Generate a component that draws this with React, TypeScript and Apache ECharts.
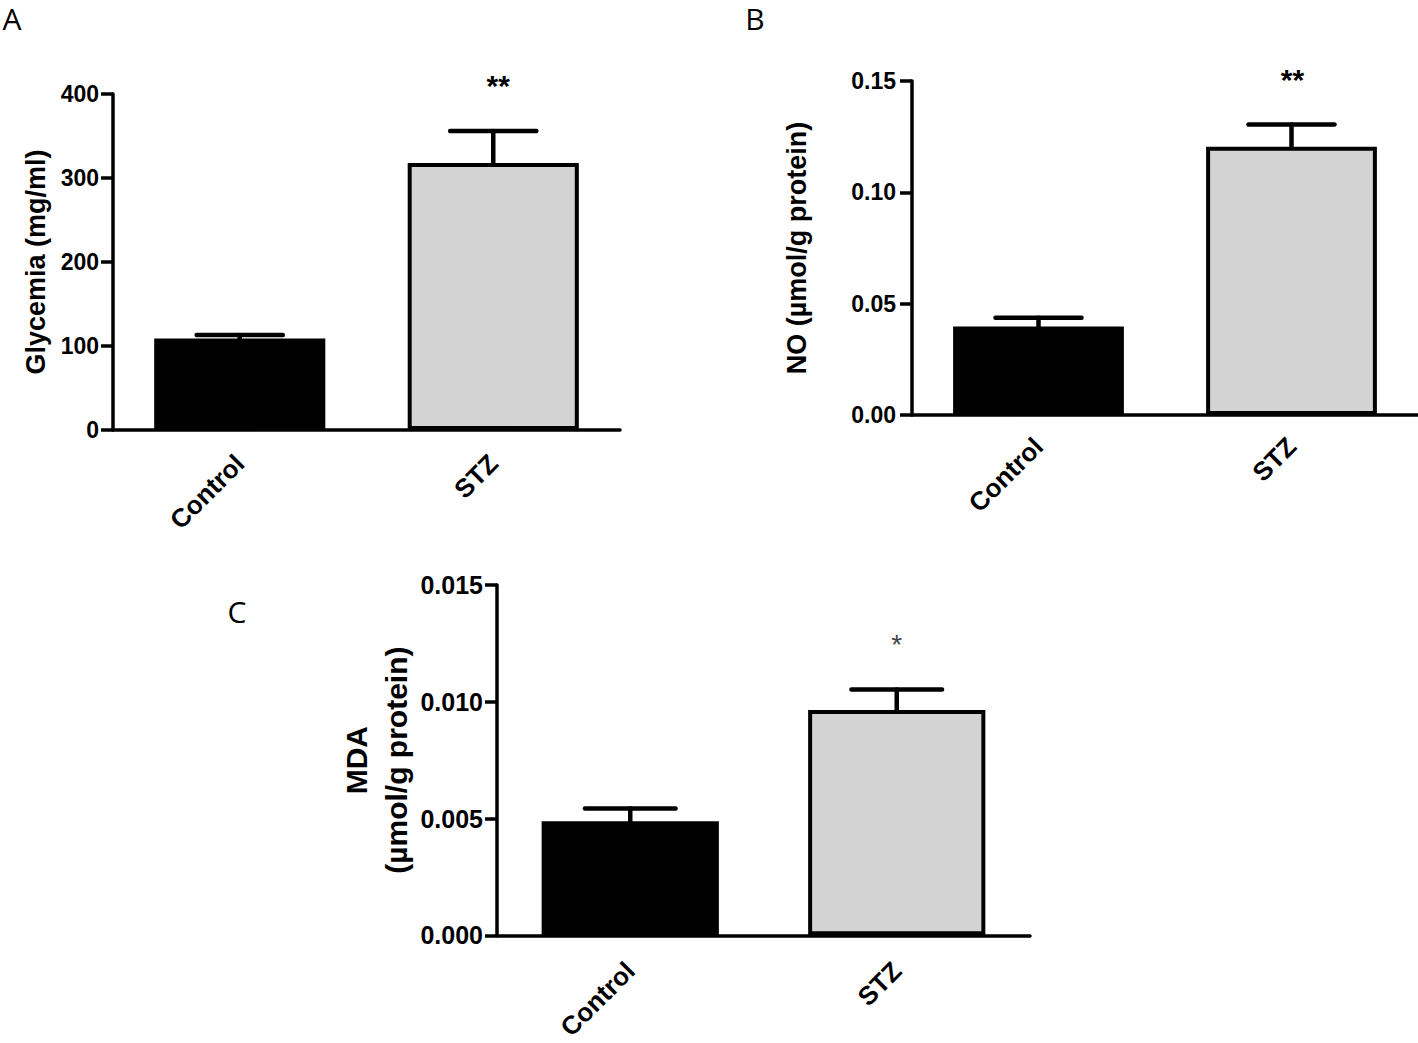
import React, { useEffect, useRef } from "react";
import * as echarts from "echarts";

const categories = ["Control", "STZ"];

// Panel A: Glycemia (mg/ml)
const glycemiaMean = [109, 318];
const glycemiaSem = [4, 38];
const glycemiaSig = ["", "**"];

// Panel B: NO (µmol/g protein)
const noMean = [0.0398, 0.1205];
const noSem = [0.0039, 0.0100];
const noSig = ["", "**"];

// Panel C: MDA (µmol/g protein)
const mdaMean = [0.00488, 0.00965];
const mdaSem = [0.00055, 0.00088];
const mdaSig = ["", "*"];

const yTicksA = { min: 0, max: 400, interval: 100 };
const yTicksB = { min: 0, max: 0.15, interval: 0.05 };
const yTicksC = { min: 0, max: 0.015, interval: 0.005 };

const barColors = ["#000000", "#d3d3d3"];

const SANS = "'Liberation Sans', Arial, Helvetica, sans-serif";

export default function App() {
  const ref = useRef<HTMLDivElement>(null);

  useEffect(() => {
    if (!ref.current) return;
    const chart = echarts.init(ref.current, null, { renderer: "svg" });

    const grids = [
      { left: 113, top: 94, width: 507, height: 336 },
      { left: 912, top: 81, width: 506, height: 334 },
      { left: 497, top: 585, width: 533, height: 354 },
    ];

    const panels = [
      {
        mean: glycemiaMean, sem: glycemiaSem, sig: glycemiaSig, ticks: yTicksA,
        name: "Glycemia (mg/ml)", nameGap: 63, dec: 0, tickSize: 23, labelMargin: 14,
        starStyle: { fontSize: 30, fontWeight: "bold", fill: "#000", dx: 5 }, nameSize: 27, lineHeight: 28,
        barWidth: "67.5%", catMargin: 29,
      },
      {
        mean: noMean, sem: noSem, sig: noSig, ticks: yTicksB,
        name: "NO (µmol/g protein)", nameGap: 101, dec: 2, tickSize: 23, labelMargin: 16,
        starStyle: { fontSize: 30, fontWeight: "bold", fill: "#000", dx: 1 }, nameSize: 27, lineHeight: 28,
        barWidth: "67.5%", catMargin: 27,
      },
      {
        mean: mdaMean, sem: mdaSem, sig: mdaSig, ticks: yTicksC,
        name: "MDA\n(µmol/g protein)", nameGap: 64, dec: 3, tickSize: 25, labelMargin: 14,
        starStyle: { fontSize: 28, fontWeight: "normal", fill: "#444", dx: 0 }, nameSize: 30, lineHeight: 40,
        barWidth: "66.5%", catMargin: 31,
      },
    ];

    const xAxis = panels.map((p, i) => ({
      type: "category",
      gridIndex: i,
      data: categories,
      axisLine: { lineStyle: { color: "#000", width: 3.5 } },
      axisTick: { alignWithLabel: true, length: 11, lineStyle: { color: "#000", width: 3.5 } },
      axisLabel: {
        rotate: 45,
        margin: p.catMargin,
        color: "#000",
        fontFamily: SANS,
        fontWeight: "bold",
        fontSize: 26,
      },
    }));

    const yAxis = panels.map((p, i) => ({
      type: "value",
      gridIndex: i,
      min: p.ticks.min,
      max: p.ticks.max,
      interval: p.ticks.interval,
      name: p.name,
      nameLocation: "middle",
      nameGap: p.nameGap,
      nameRotate: 90,
      nameTextStyle: {
        color: "#000",
        fontFamily: SANS,
        fontWeight: "bold",
        fontSize: p.nameSize,
        lineHeight: p.lineHeight,
        align: "center",
      },
      splitLine: { show: false },
      axisLine: { show: true, lineStyle: { color: "#000", width: 3.5 } },
      axisTick: { show: true, length: 12, lineStyle: { color: "#000", width: 3.5 } },
      axisLabel: {
        margin: p.labelMargin,
        color: "#000",
        fontFamily: SANS,
        fontWeight: "bold",
        fontSize: p.tickSize,
        formatter: (v: number) => v.toFixed(p.dec),
      },
    }));

    const series: any[] = [];
    panels.forEach((p, i) => {
      series.push({
        type: "bar",
        xAxisIndex: i,
        yAxisIndex: i,
        barWidth: p.barWidth,
        data: p.mean.map((v, k) => ({
          value: v,
          itemStyle: { color: barColors[k], borderColor: "#000", borderWidth: 4 },
        })),
        z: 2,
      });
      series.push({
        type: "custom",
        xAxisIndex: i,
        yAxisIndex: i,
        z: 3,
        clip: false,
        data: p.mean.map((v, k) => [k, v, p.sem[k]]),
        renderItem: (params: any, api: any) => {
          const idx = api.value(0);
          const v = api.value(1);
          const e = api.value(2);
          const base = api.coord([idx, v]);
          const top = api.coord([idx, v + e]);
          const half = api.size([1, 0])[0] * 0.17;
          const style = { stroke: "#000", lineWidth: 4.5, lineCap: "round" };
          const children: any[] = [
            { type: "line", shape: { x1: base[0], y1: base[1], x2: top[0], y2: top[1] }, style },
            { type: "line", shape: { x1: top[0] - half, y1: top[1], x2: top[0] + half, y2: top[1] }, style },
          ];
          const star = p.sig[params.dataIndex];
          if (star) {
            children.push({
              type: "text",
              x: top[0] + p.starStyle.dx,
              y: top[1] - 45,
              style: {
                text: star,
                textAlign: "center",
                textVerticalAlign: "middle",
                fontFamily: SANS,
                fontSize: p.starStyle.fontSize,
                fontWeight: p.starStyle.fontWeight,
                fill: p.starStyle.fill,
              },
            });
          }
          return { type: "group", children };
        },
      });
    });

    const letterStyle = {
      fontFamily: "'Open Sans', 'Noto Sans', sans-serif",
      fontSize: 30,
      fill: "#000",
      textAlign: "center",
      textVerticalAlign: "middle",
    };

    chart.setOption({
      animation: false,
      backgroundColor: "#ffffff",
      grid: grids,
      xAxis,
      yAxis,
      series,
      graphic: [
        { type: "text", x: 12, y: 18, style: { ...letterStyle, text: "A" } },
        { type: "text", x: 755, y: 18, style: { ...letterStyle, text: "B" } },
        { type: "text", x: 237, y: 611, style: { ...letterStyle, text: "C" } },
      ],
    });

    return () => chart.dispose();
  }, []);

  return (
    <div
      ref={ref}
      style={{ position: "absolute", left: 0, top: 0, width: 1418, height: 1043, background: "#fff" }}
    />
  );
}
